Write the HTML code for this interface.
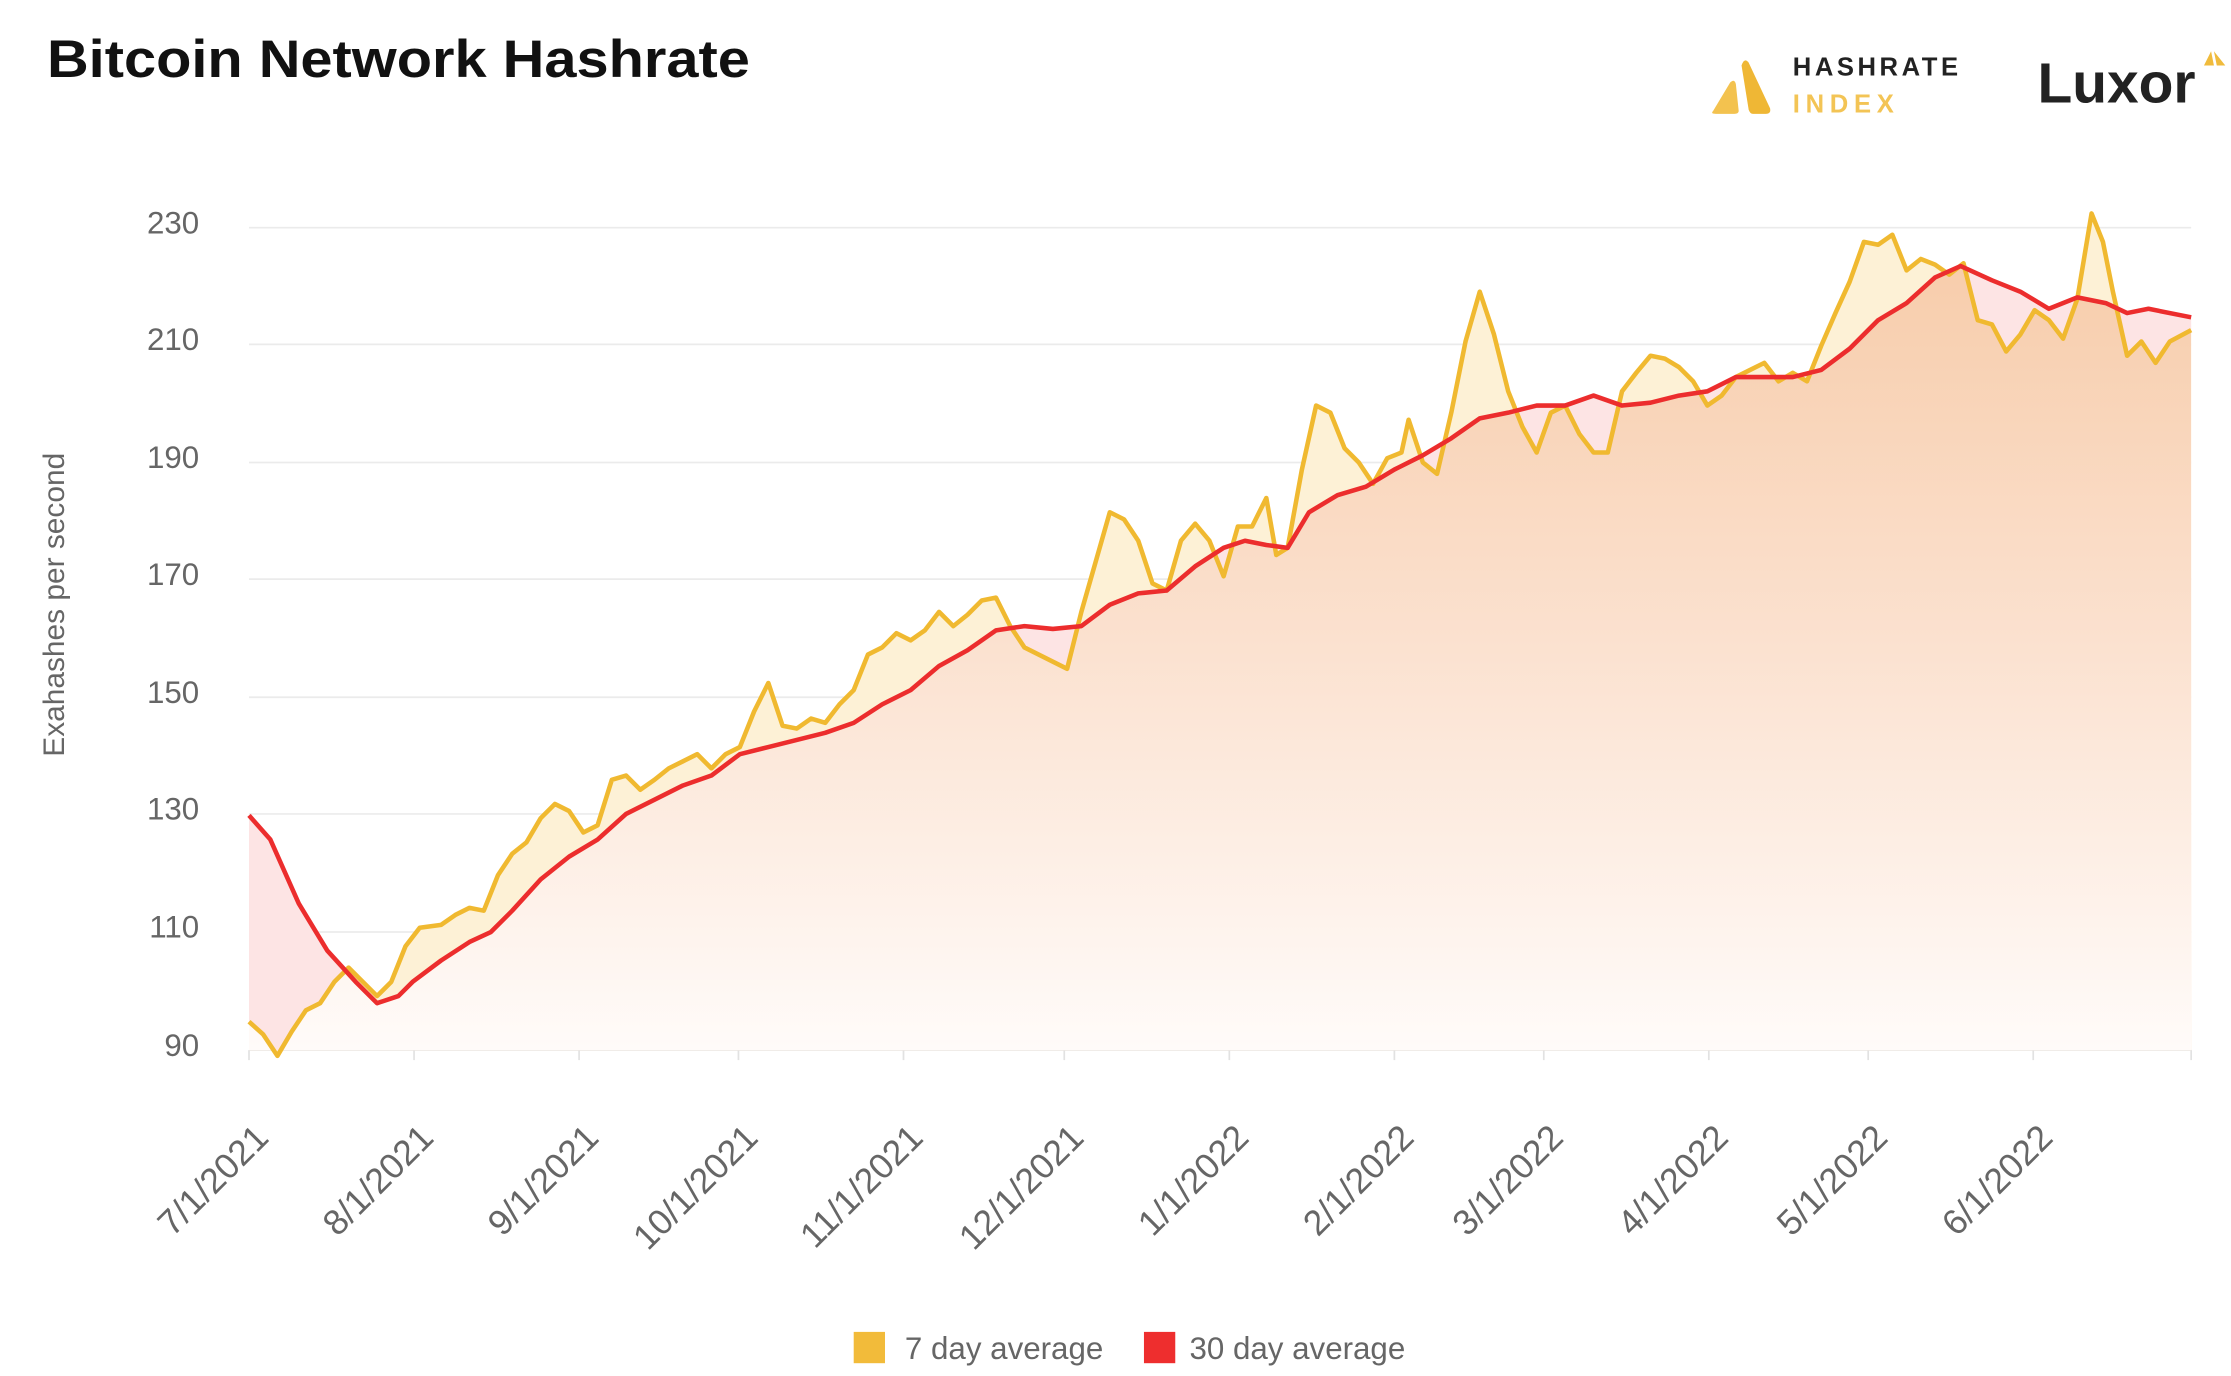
<!DOCTYPE html>
<html><head><meta charset="utf-8"><style>
html,body{margin:0;padding:0;background:#fff;}
svg{display:block;}
text{font-family:"Liberation Sans",sans-serif;}
</style></head><body>
<svg width="2231" height="1376" viewBox="0 0 1568 967" preserveAspectRatio="none" xmlns="http://www.w3.org/2000/svg">
<defs>
<linearGradient id="pg" gradientUnits="userSpaceOnUse" x1="0" y1="160" x2="0" y2="737">
<stop offset="0" stop-color="#f7cba8"/><stop offset="0.5" stop-color="#fbe1cf"/><stop offset="1" stop-color="#fffbf9"/>
</linearGradient>
<clipPath id="yc"><path id="yarea" d=""/></clipPath>
</defs>
<text x="33" y="54" font-size="37" font-weight="bold" fill="#111" textLength="494" lengthAdjust="spacingAndGlyphs">Bitcoin Network Hashrate</text>
<!-- logos -->
<path d="M1204,78 L1216,58 Q1219,55 1220,59 L1222,78 Q1222,80 1219,80 L1206,80 Q1202,80 1204,78 Z" fill="#f3c24f"/>
<path d="M1224,46 Q1226,40 1229,44 L1244,76 Q1245,80 1241,80 L1232,80 Q1230,80 1229,77 Z" fill="#efb735"/>
<text x="1260" y="53" font-size="18" font-weight="bold" fill="#222" letter-spacing="2.5">HASHRATE</text>
<text x="1260" y="79" font-size="18" font-weight="bold" fill="#f3c455" letter-spacing="4">INDEX</text>
<text x="1432" y="72" font-size="40" font-weight="bold" fill="#222">Luxor</text>
<path d="M1549,46 L1554,36 L1556,46 Z M1556,36 L1564,46 L1558,46 Z" fill="#f0bb3c"/>
<!-- grid -->
<g stroke="#ebebeb" stroke-width="1.2">
<line x1="175" y1="160" x2="1540" y2="160"/><line x1="175" y1="242" x2="1540" y2="242"/>
<line x1="175" y1="325" x2="1540" y2="325"/><line x1="175" y1="407" x2="1540" y2="407"/>
<line x1="175" y1="490" x2="1540" y2="490"/><line x1="175" y1="572" x2="1540" y2="572"/>
<line x1="175" y1="655" x2="1540" y2="655"/><line x1="175" y1="738" x2="1540" y2="738"/>
</g>
<g stroke="#e2e2e2" stroke-width="1.2">
<line x1="175" y1="738" x2="175" y2="745"/><line x1="291" y1="738" x2="291" y2="745"/><line x1="407" y1="738" x2="407" y2="745"/><line x1="519" y1="738" x2="519" y2="745"/><line x1="635" y1="738" x2="635" y2="745"/><line x1="748" y1="738" x2="748" y2="745"/><line x1="864" y1="738" x2="864" y2="745"/><line x1="980" y1="738" x2="980" y2="745"/><line x1="1085" y1="738" x2="1085" y2="745"/><line x1="1201" y1="738" x2="1201" y2="745"/><line x1="1313" y1="738" x2="1313" y2="745"/><line x1="1429" y1="738" x2="1429" y2="745"/><line x1="1540" y1="738" x2="1540" y2="745"/>
</g>
<g font-size="22" fill="#666" text-anchor="end">
<text x="140" y="164">230</text><text x="140" y="246">210</text><text x="140" y="329">190</text><text x="140" y="411">170</text><text x="140" y="494">150</text><text x="140" y="576">130</text><text x="140" y="659">110</text><text x="140" y="742">90</text>
</g>
<text transform="translate(45,425) rotate(-90)" font-size="21" fill="#666" text-anchor="middle">Exahashes per second</text>
<g font-size="25" fill="#666" text-anchor="end">
<text transform="translate(190,801) rotate(-45)">7/1/2021</text>
<text transform="translate(306,801) rotate(-45)">8/1/2021</text>
<text transform="translate(422,801) rotate(-45)">9/1/2021</text>
<text transform="translate(534,801) rotate(-45)">10/1/2021</text>
<text transform="translate(650,801) rotate(-45)">11/1/2021</text>
<text transform="translate(763,801) rotate(-45)">12/1/2021</text>
<text transform="translate(879,801) rotate(-45)">1/1/2022</text>
<text transform="translate(995,801) rotate(-45)">2/1/2022</text>
<text transform="translate(1100,801) rotate(-45)">3/1/2022</text>
<text transform="translate(1216,801) rotate(-45)">4/1/2022</text>
<text transform="translate(1328,801) rotate(-45)">5/1/2022</text>
<text transform="translate(1444,801) rotate(-45)">6/1/2022</text>
</g>
<g id="series"></g>
<rect x="600" y="936" width="22" height="22" fill="#f2bb3a"/>
<text x="636" y="955" font-size="22" fill="#666">7 day average</text>
<rect x="804" y="936" width="22" height="22" fill="#ee2e2e"/>
<text x="836" y="955" font-size="22" fill="#666">30 day average</text>
<script>
var R=[[175,573],[190,590],[210,635],[230,668],[250,690],[265,705],[280,700],[290,690],[310,675],[330,662],[345,655],[360,640],[380,618],[400,602],[420,590],[440,572],[460,562],[480,552],[500,545],[520,530],[540,525],[560,520],[580,515],[600,508],[620,495],[640,485],[660,468],[680,457],[700,443],[720,440],[740,442],[760,440],[780,425],[800,417],[820,415],[840,398],[860,385],[875,380],[890,383],[905,385],[920,360],[940,348],[960,342],[980,330],[1000,320],[1020,308],[1040,294],[1060,290],[1080,285],[1100,285],[1120,278],[1140,285],[1160,283],[1180,278],[1200,275],[1220,265],[1240,265],[1260,265],[1280,260],[1300,245],[1320,225],[1340,213],[1360,195],[1378,187],[1400,197],[1420,205],[1440,217],[1460,209],[1480,213],[1495,220],[1510,217],[1540,223]];
var Y=[[175,718],[185,727],[195,742],[205,725],[215,710],[225,705],[235,690],[245,680],[255,690],[265,700],[275,690],[285,665],[295,652],[310,650],[320,643],[330,638],[340,640],[350,615],[360,600],[370,592],[380,575],[390,565],[400,570],[410,585],[420,580],[430,548],[440,545],[450,555],[460,548],[470,540],[480,535],[490,530],[500,540],[510,530],[520,525],[530,500],[540,480],[550,510],[560,512],[570,505],[580,508],[590,495],[600,485],[610,460],[620,455],[630,445],[640,450],[650,443],[660,430],[670,440],[680,432],[690,422],[700,420],[710,440],[720,455],[730,460],[740,465],[750,470],[760,430],[770,395],[780,360],[790,365],[800,380],[810,410],[820,415],[830,380],[840,368],[850,380],[860,405],[870,370],[880,370],[890,350],[897,390],[905,385],[915,330],[925,285],[935,290],[945,315],[955,325],[965,340],[975,322],[985,318],[990,295],[1000,325],[1010,333],[1020,290],[1030,240],[1040,205],[1050,235],[1060,275],[1070,300],[1080,318],[1090,290],[1100,285],[1110,305],[1120,318],[1130,318],[1140,275],[1150,262],[1160,250],[1170,252],[1180,258],[1190,268],[1200,285],[1210,278],[1220,265],[1230,260],[1240,255],[1250,268],[1260,262],[1270,268],[1280,243],[1290,220],[1300,198],[1310,170],[1320,172],[1330,165],[1340,190],[1350,182],[1360,186],[1370,193],[1380,185],[1390,225],[1400,228],[1410,247],[1420,235],[1430,218],[1440,225],[1450,238],[1460,210],[1470,150],[1478,170],[1485,205],[1495,250],[1505,240],[1515,255],[1525,240],[1540,232]];
function line(p){return "M"+p.map(function(q){return q[0]+","+q[1]}).join(" L");}
function area(p){return line(p)+" L1540,738 L175,738 Z";}
document.getElementById("yarea").setAttribute("d",area(Y));
var ns="http://www.w3.org/2000/svg",g=document.getElementById("series");
function el(a){var e=document.createElementNS(ns,"path");for(var k in a)e.setAttribute(k,a[k]);g.appendChild(e);}
el({d:area(R),fill:"#fde4e4"});
el({d:area(Y),fill:"#fdf1d6"});
el({d:area(R),fill:"url(#pg)","clip-path":"url(#yc)"});
el({d:line(Y),fill:"none",stroke:"#f0b930","stroke-width":"3.2","stroke-linejoin":"round"});
el({d:line(R),fill:"none",stroke:"#ec2d2d","stroke-width":"3.2","stroke-linejoin":"round"});
</script>
</svg>
</body></html>
